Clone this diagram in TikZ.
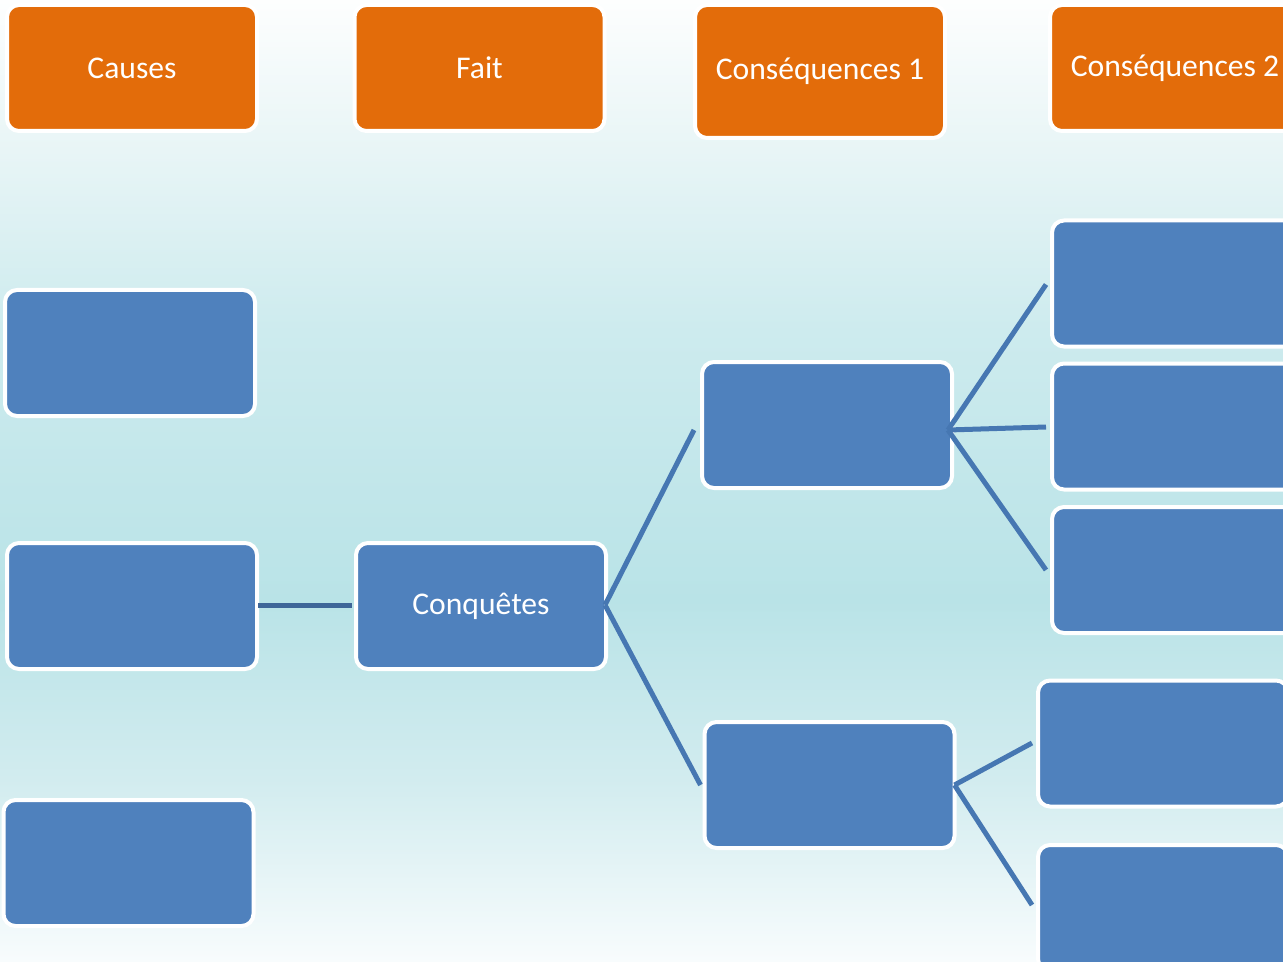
\documentclass[tikz,border=0pt]{standalone}
\usepackage{fontspec}
\setmainfont{Carlito}
\usepackage{tikz}

\definecolor{hdrorange}{HTML}{E36C0A}
\definecolor{blkblue}{HTML}{4F81BD}
\definecolor{linkblue}{HTML}{4677B2}
\definecolor{linkdark}{HTML}{3E6698}
\definecolor{bga}{HTML}{FDFEFE}
\definecolor{bgb}{HTML}{E8F5F6}
\definecolor{bgc}{HTML}{CDEBEE}
\definecolor{bgd}{HTML}{B9E3E7}
\definecolor{bge}{HTML}{D2ECEF}
\definecolor{bgf}{HTML}{F8FCFD}
\pgfdeclareverticalshading{bgshade}{100bp}{color(0bp)=(bgf); color(25bp)=(bgf); color(34.5bp)=(bge); color(43.8bp)=(bgd); color(57.8bp)=(bgc); color(67.2bp)=(bgb); color(75bp)=(bga); color(100bp)=(bga)}

\begin{document}
\begin{tikzpicture}[x=0.5pt,y=-0.5pt,
    panel/.style={draw=white,line width=2pt,rounded corners=6pt,inner sep=0pt,
        minimum width=125pt,minimum height=63pt,text=white,font=\fontsize{15.8}{19}\selectfont},
    hdr/.style={panel,fill=hdrorange},
    blk/.style={panel,fill=blkblue},
    link/.style={draw=linkblue,line width=2.5pt}]
    \useasboundingbox (0,0) rectangle (1283,962);
    \clip (0,0) rectangle (1283,962);
    \shade [shading=bgshade] (0,0) rectangle (1283,962);
    \path
        (132,68)      node [hdr]  (causes) {Causes}
     ++ (347.5,0)     node [hdr]  (fait) {Fait}
     ++ (340.5,3.5)   node [hdr,minimum height=66.5pt]  (cons1) {Conséquences 1}
     ++ (355,-3.5)    node [hdr]  (cons2) {Conséquences 2}
     ;
    \path
        (130,353)     node [blk]  (cause1) {}
        (132,606)     node [blk]  (cause2) {}
        (128.5,863)   node [blk]  (cause3) {}
        (481,606)     node [blk]  (conq) {Conquêtes}
        (827,425)     node [blk]  (c1a) {}
        (829.5,785)   node [blk]  (c1b) {}
        (1177,283.5)  node [blk]  (c2a) {}
        (1177,426.5)  node [blk]  (c2b) {}
        (1177,570)    node [blk]  (c2c) {}
        (1163,743.5)  node [blk]  (c2d) {}
        (1163,908)    node [blk]  (c2e) {}
        ;
    \draw [link,draw=linkdark] ([shift={(-1,-1)}]cause2.east) -- ([shift={(-2,-1)}]conq.west);
    \draw [link] ([shift={(-3,-1)}]conq.east) -- ([shift={(-6,5)}]c1a.west);
    \draw [link] ([shift={(-3,-1)}]conq.east) -- ([shift={(-2,0)}]c1b.west);
    \draw [link] ([shift={(-6,5)}]c1a.east) -- ([shift={(-4,1)}]c2a.west);
    \draw [link] ([shift={(-6,5)}]c1a.east) -- ([shift={(-4,0.5)}]c2b.west);
    \draw [link] ([shift={(-6,5)}]c1a.east) -- ([shift={(-4,0)}]c2c.west);
    \draw [link] ([shift={(-2,0)}]c1b.east) -- ([shift={(-4,-0.5)}]c2d.west);
    \draw [link] ([shift={(-2,0)}]c1b.east) -- ([shift={(-4,-3)}]c2e.west);
\end{tikzpicture}
\end{document}
